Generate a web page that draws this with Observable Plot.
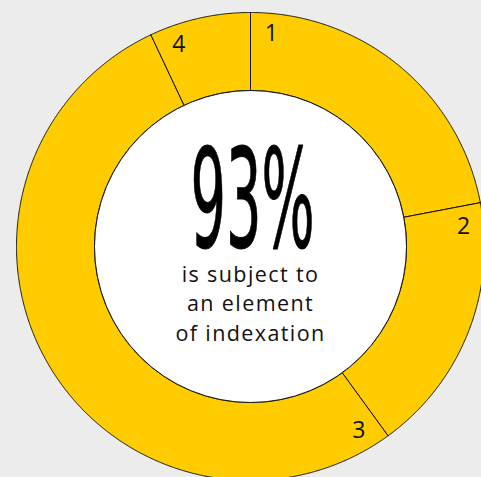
<!DOCTYPE html>
<html><head><meta charset="utf-8">
<script src="https://cdn.jsdelivr.net/npm/d3@7"></script>
<script src="https://cdn.jsdelivr.net/npm/@observablehq/plot@0.6"></script>
<style>
html,body{margin:0;padding:0;background:#ececec;overflow:hidden;}
</style></head><body><div id="chart"></div>
<script>
const segmentLabels = ["1", "2", "3", "4"];
const segmentValues = [22, 18, 53, 7];
const headline = "93%";
const captionLines = ["is subject to", "an element", "of indexation"];

const W = 481, H = 477, cx = 250, cy = 246, R0 = 156, R1 = 234, RL = 214;
const total = d3.sum(segmentValues);
let cum = 0;
const slices = segmentValues.map((v, i) => {
  const a0 = cum / total * 2 * Math.PI; cum += v;
  const a1 = cum / total * 2 * Math.PI;
  return {label: segmentLabels[i], a0, a1};
});
const pts = [];
slices.forEach(s => {
  const n = Math.max(2, Math.ceil((s.a1 - s.a0) / 0.004));
  const ring = [];
  for (let k = 0; k <= n; k++) { const a = s.a0 + (s.a1 - s.a0) * k / n; ring.push({slice: s.label, x: R1 * Math.sin(a), y: -R1 * Math.cos(a)}); }
  for (let k = n; k >= 0; k--) { const a = s.a0 + (s.a1 - s.a0) * k / n; ring.push({slice: s.label, x: R0 * Math.sin(a), y: -R0 * Math.cos(a)}); }
  ring.push(ring[0]);
  pts.push(...ring);
});
const labelPts = slices.map(s => {
  const a = s.a0 + 5.6 * Math.PI / 180;
  return {label: s.label, x: RL * Math.sin(a), y: -RL * Math.cos(a)};
});

const chart = Plot.plot({
  width: W, height: H, margin: 0,
  x: {domain: [-cx, W - cx], range: [0, W], axis: null},
  y: {domain: [-cy, H - cy], range: [0, H], axis: null},
  style: {background: "#ececec", overflow: "hidden"},
  marks: [
    Plot.line(pts, {x: "x", y: "y", z: "slice", fill: "#ffcc00", stroke: "#111", strokeWidth: 1}),
    Plot.dot([{x: 0, y: 0}], {x: "x", y: "y", r: R0, fill: "white", stroke: "#111", strokeWidth: 1}),
    Plot.text(labelPts, {x: "x", y: "y", text: "label", fontSize: 23, fill: "#111", fontFamily: "Open Sans"}),
    Plot.text([headline], {x: 2, y: 0, text: d => d, fontSize: 137, fill: "#000", stroke: "#000", strokeWidth: 1, lineAnchor: "bottom", fontFamily: "DejaVu Sans Condensed, DejaVu Sans"}),
    Plot.text([captionLines.join("\n")], {x: 0, y: 94, text: d => d, fontSize: 21.5, lineHeight: 1.35, lineAnchor: "bottom", fill: "#111", fontFamily: "Open Sans"})
  ]
});
document.getElementById("chart").appendChild(chart);
d3.select(chart).selectAll("text").filter(function() { return this.textContent === headline; })
  .attr("textLength", 124).attr("lengthAdjust", "spacingAndGlyphs");
d3.select(chart).selectAll("text").filter(function() { return captionLines.some(l => this.textContent.includes(l)); })
  .style("letter-spacing", "1.4px");
</script></body></html>
